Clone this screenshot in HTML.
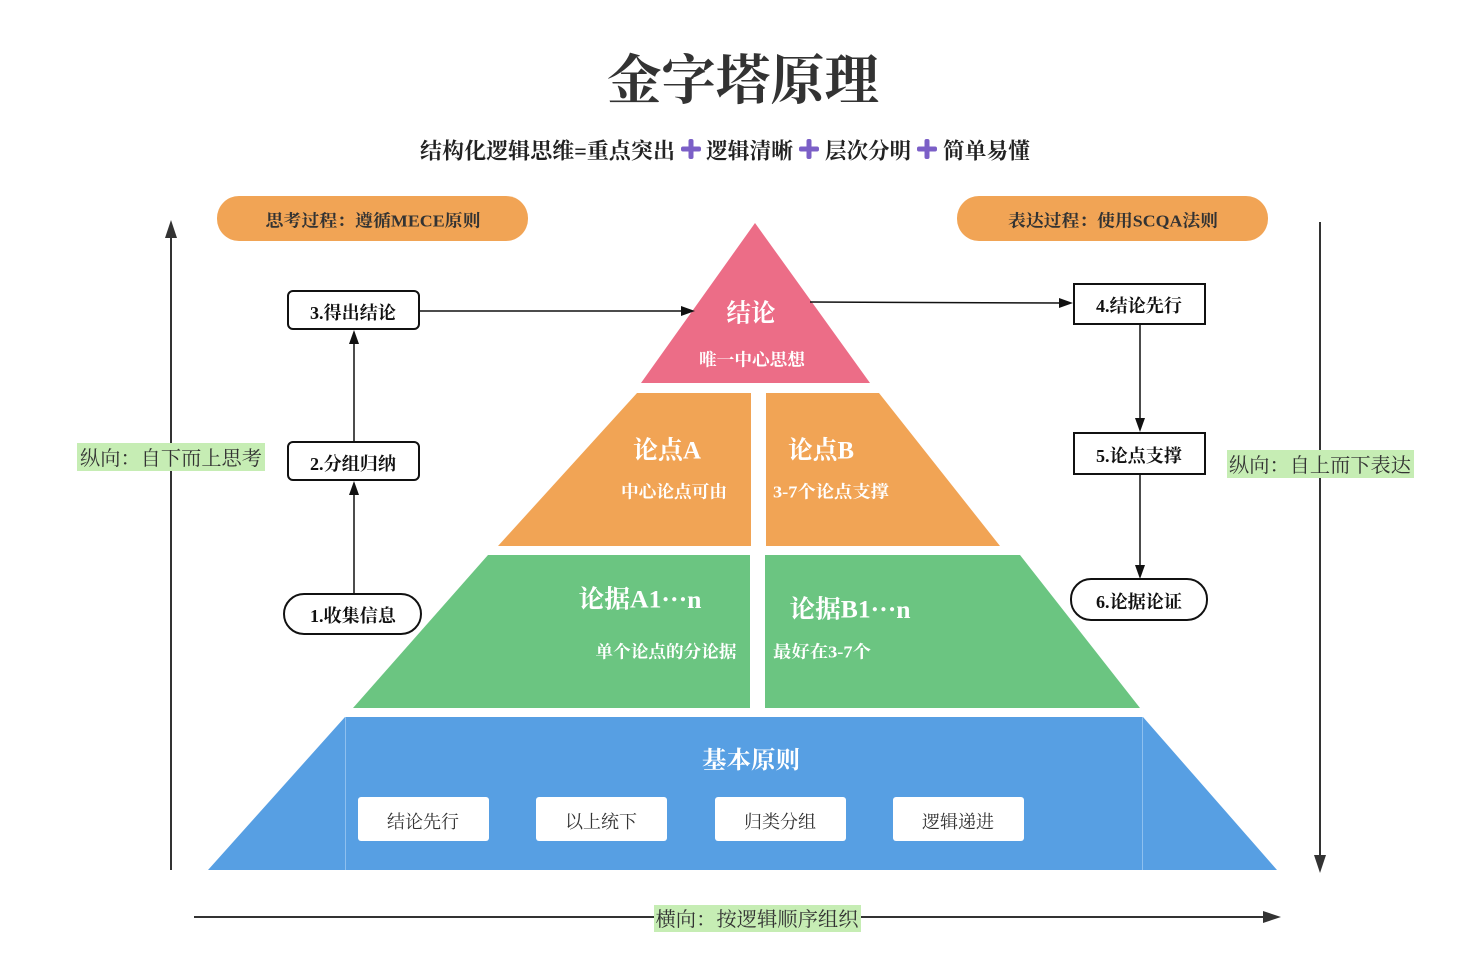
<!DOCTYPE html>
<html><head><meta charset="utf-8"><style>
html,body{margin:0;padding:0;background:#fff;}
svg{display:block;}
text{font-family:"Liberation Serif","Noto Serif CJK SC",serif;}
</style></head><body>
<svg width="1480" height="979" viewBox="0 0 1480 979" xmlns="http://www.w3.org/2000/svg">
<rect width="1480" height="979" fill="#fff"/>

<!-- Title -->
<text x="743" y="81" text-anchor="middle" dominant-baseline="central" font-size="54" font-weight="bold" fill="#333" textLength="272" lengthAdjust="spacingAndGlyphs">金字塔原理</text>

<!-- Subtitle -->
<g font-size="22" font-weight="bold" fill="#222" dominant-baseline="central">
<text x="420" y="151" textLength="255" lengthAdjust="spacingAndGlyphs">结构化逻辑思维=重点突出</text>
<text x="706" y="151" textLength="87" lengthAdjust="spacingAndGlyphs">逻辑清晰</text>
<text x="825" y="151" textLength="86" lengthAdjust="spacingAndGlyphs">层次分明</text>
<text x="943" y="151" textLength="87" lengthAdjust="spacingAndGlyphs">简单易懂</text>
</g>
<g fill="#7b5fc7">
<rect x="681" y="146.5" width="20" height="5" rx="2"/><rect x="688.5" y="139" width="5" height="20" rx="2"/>
<rect x="799" y="146.5" width="20" height="5" rx="2"/><rect x="806.5" y="139" width="5" height="20" rx="2"/>
<rect x="917" y="146.5" width="20" height="5" rx="2"/><rect x="924.5" y="139" width="5" height="20" rx="2"/>
</g>

<!-- Pills -->
<rect x="217" y="196" width="311" height="45" rx="22" fill="#f1a455"/>
<text x="373" y="221" text-anchor="middle" dominant-baseline="central" font-size="17" font-weight="bold" fill="#333" textLength="215" lengthAdjust="spacingAndGlyphs">思考过程：遵循MECE原则</text>
<rect x="957" y="196" width="311" height="45" rx="22" fill="#f1a455"/>
<text x="1113" y="221" text-anchor="middle" dominant-baseline="central" font-size="17" font-weight="bold" fill="#333" textLength="210" lengthAdjust="spacingAndGlyphs">表达过程：使用SCQA法则</text>

<!-- Axes -->
<g stroke="#333" stroke-width="2" fill="none">
<line x1="171" y1="870" x2="171" y2="234"/>
<line x1="1320" y1="222" x2="1320" y2="858"/>
<line x1="194" y1="917" x2="1266" y2="917"/>
</g>
<g fill="#333">
<polygon points="171,220 165,238 177,238"/>
<polygon points="1320,873 1314,855 1326,855"/>
<polygon points="1281,917 1263,911 1263,923"/>
</g>

<!-- Axis labels -->
<rect x="77" y="443" width="188" height="28" fill="#c6edb4"/>
<text x="171" y="459" text-anchor="middle" dominant-baseline="central" font-size="20" fill="#333" textLength="182" lengthAdjust="spacingAndGlyphs">纵向：自下而上思考</text>
<rect x="1227" y="450" width="187" height="28" fill="#c6edb4"/>
<text x="1320" y="466" text-anchor="middle" dominant-baseline="central" font-size="20" fill="#333" textLength="182" lengthAdjust="spacingAndGlyphs">纵向：自上而下表达</text>
<rect x="654" y="905" width="207" height="27" fill="#c6edb4"/>
<text x="757" y="920" text-anchor="middle" dominant-baseline="central" font-size="20" fill="#333" textLength="203" lengthAdjust="spacingAndGlyphs">横向：按逻辑顺序组织</text>

<!-- Pyramid -->
<polygon points="755,223 641,383 870,383" fill="#ec6d87"/>
<polygon points="637,393 751,393 751,546 498,546" fill="#f1a455"/>
<polygon points="766,393 879,393 1000,546 766,546" fill="#f1a455"/>
<polygon points="488,555 750,555 750,708 353,708" fill="#6bc581"/>
<polygon points="765,555 1020,555 1140,708 765,708" fill="#6bc581"/>
<polygon points="345,717 1143,717 1277,870 208,870" fill="#579fe3"/>
<line x1="345.5" y1="717" x2="345.5" y2="870" stroke="#8ec0ef" stroke-width="1"/>
<line x1="1142.5" y1="717" x2="1142.5" y2="870" stroke="#8ec0ef" stroke-width="1"/>

<g fill="#fff" font-weight="bold" text-anchor="middle" dominant-baseline="central">
<text x="751" y="314" font-size="25" textLength="49" lengthAdjust="spacingAndGlyphs">结论</text>
<text x="752" y="360" font-size="17" textLength="106" lengthAdjust="spacingAndGlyphs">唯一中心思想</text>
<text x="667" y="451" font-size="25" textLength="68" lengthAdjust="spacingAndGlyphs">论点A</text>
<text x="674" y="492" font-size="17" textLength="106" lengthAdjust="spacingAndGlyphs">中心论点可由</text>
<text x="821" y="451" font-size="25" textLength="66" lengthAdjust="spacingAndGlyphs">论点B</text>
<text x="831" y="492" font-size="17" textLength="116" lengthAdjust="spacingAndGlyphs">3-7个论点支撑</text>
<text x="640" y="600" font-size="25" textLength="123" lengthAdjust="spacingAndGlyphs">论据A1<tspan dy="-7">…</tspan><tspan dy="7">n</tspan></text>
<text x="666" y="652" font-size="17" textLength="141" lengthAdjust="spacingAndGlyphs">单个论点的分论据</text>
<text x="850" y="610" font-size="25" textLength="121" lengthAdjust="spacingAndGlyphs">论据B1<tspan dy="-7">…</tspan><tspan dy="7">n</tspan></text>
<text x="822" y="652" font-size="17" textLength="98" lengthAdjust="spacingAndGlyphs">最好在3-7个</text>
<text x="751" y="761" font-size="24" textLength="98" lengthAdjust="spacingAndGlyphs">基本原则</text>
</g>

<!-- Principle boxes -->
<g fill="#fff">
<rect x="358" y="797" width="131" height="44" rx="3"/>
<rect x="536" y="797" width="131" height="44" rx="3"/>
<rect x="715" y="797" width="131" height="44" rx="3"/>
<rect x="893" y="797" width="131" height="44" rx="3"/>
</g>
<g fill="#333" font-size="18" text-anchor="middle" dominant-baseline="central">
<text x="423" y="822" textLength="72" lengthAdjust="spacingAndGlyphs">结论先行</text>
<text x="601" y="822" textLength="72" lengthAdjust="spacingAndGlyphs">以上统下</text>
<text x="780" y="822" textLength="72" lengthAdjust="spacingAndGlyphs">归类分组</text>
<text x="958" y="822" textLength="72" lengthAdjust="spacingAndGlyphs">逻辑递进</text>
</g>

<!-- Flow boxes -->
<g fill="#fff" stroke="#111" stroke-width="2">
<rect x="288" y="291" width="131" height="38" rx="5"/>
<rect x="288" y="442" width="131" height="38" rx="5"/>
<rect x="284" y="594" width="137" height="40" rx="20"/>
<rect x="1074" y="284" width="131" height="40" rx="0"/>
<rect x="1074" y="433" width="131" height="41" rx="0"/>
<rect x="1071" y="579" width="136" height="41" rx="20"/>
</g>
<g fill="#111" font-size="18" font-weight="bold" text-anchor="middle" dominant-baseline="central">
<text x="353" y="313" textLength="86" lengthAdjust="spacingAndGlyphs">3.得出结论</text>
<text x="353" y="464" textLength="86" lengthAdjust="spacingAndGlyphs">2.分组归纳</text>
<text x="353" y="616" textLength="86" lengthAdjust="spacingAndGlyphs">1.收集信息</text>
<text x="1139" y="306" textLength="86" lengthAdjust="spacingAndGlyphs">4.结论先行</text>
<text x="1139" y="456" textLength="86" lengthAdjust="spacingAndGlyphs">5.论点支撑</text>
<text x="1139" y="602" textLength="86" lengthAdjust="spacingAndGlyphs">6.论据论证</text>
</g>

<!-- Connectors -->
<g stroke="#111" stroke-width="1.5" fill="none">
<line x1="354" y1="593" x2="354" y2="494"/>
<line x1="354" y1="442" x2="354" y2="342"/>
<line x1="420" y1="311" x2="682" y2="311"/>
<line x1="810" y1="302" x2="1061" y2="303"/>
<line x1="1140" y1="324" x2="1140" y2="420"/>
<line x1="1140" y1="474" x2="1140" y2="567"/>
</g>
<g fill="#111">
<polygon points="354,481 349,495 359,495"/>
<polygon points="354,330 349,344 359,344"/>
<polygon points="695,311 681,306 681,316"/>
<polygon points="1073,303 1059,298 1059,308"/>
<polygon points="1140,432 1135,418 1145,418"/>
<polygon points="1140,579 1135,565 1145,565"/>
</g>
</svg>
</body></html>
